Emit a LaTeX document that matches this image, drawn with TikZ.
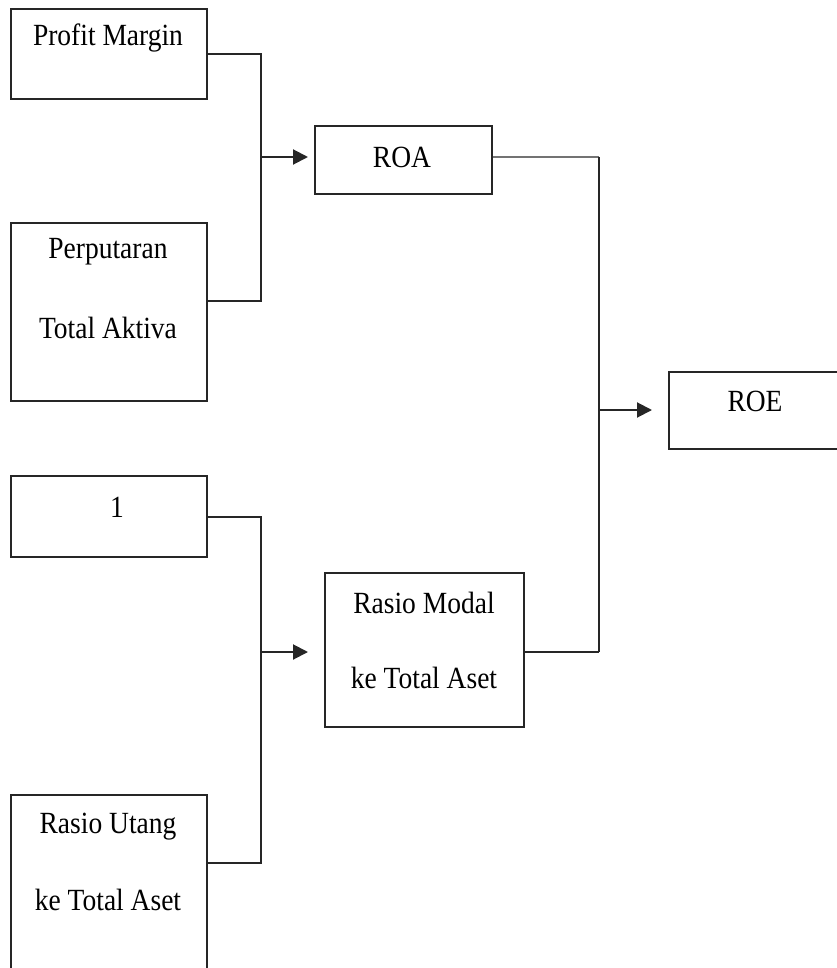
\documentclass[tikz,border=0pt]{standalone}
\usepackage{fontspec}
\setmainfont{Liberation Serif}
\usetikzlibrary{arrows.meta}
\newcommand{\tx}[1]{\scalebox{1}[1.12]{#1}}
\begin{document}
\begin{tikzpicture}[x=1pt,y=-1pt,
  box/.style={draw=black!85,line width=2pt,rectangle,inner sep=0pt},
  txt/.style={inner sep=0pt,font=\fontsize{27.5}{30}\selectfont,text=black},
  conn/.style={draw=black!85,line width=2pt},
  arr/.style={conn,-{Triangle[length=15pt,width=15pt]}}]
\useasboundingbox (0,0) rectangle (836,968);
% boxes
\node[box,minimum width=196pt,minimum height=90pt] (pm) at (109,54) {};
\node[box,minimum width=196pt,minimum height=178pt] (pta) at (109,312) {};
\node[box,minimum width=177pt,minimum height=68pt] (roa) at (403.5,160) {};
\node[box,minimum width=190pt,minimum height=77pt] (roe) at (764,410.5) {};
\node[box,minimum width=196pt,minimum height=81pt] (one) at (109,516.5) {};
\node[box,minimum width=199pt,minimum height=154pt] (modal) at (424.5,650) {};
\node[box,minimum width=196pt,minimum height=210pt] (utang) at (109,900) {};
% texts
\node[txt] (tpm) at (108,38) {\tx{Profit Margin}};
\node[txt] (tpta1) at (108,252) {\tx{Perputaran}};
\node[txt] (tpta2) at (108,328) {\tx{Total Aktiva}};
\node[txt] (troa) at (402,157) {\tx{ROA}};
\node[txt] (troe) at (755,401) {\tx{ROE}};
\node[txt] (tone) at (117,507) {\tx{1}};
\node[txt] (tmod1) at (424,603) {\tx{Rasio Modal}};
\node[txt] (tmod2) at (424,678) {\tx{ke Total Aset}};
\node[txt] (tut1) at (108,827) {\tx{Rasio Utang}};
\node[txt] (tut2) at (108,900) {\tx{ke Total Aset}};
% junctions
\coordinate (ja) at (261,157);
\coordinate (jc) at (261,652);
\coordinate (rtop) at (599,157);
\coordinate (rbot) at (599,652);
\coordinate (jb) at (599,410);
% connectors
\draw[conn] (pm.east) -| (ja);
\draw[conn] ([yshift=11pt]pta.east) -| (ja);
\draw[arr,shorten >=6pt] (ja) -- (roa.west |- ja);
\draw[conn] (one.east) -| (jc);
\draw[conn] ([yshift=37pt]utang.east) -| (jc);
\draw[arr,shorten >=16pt] (jc) -- (modal.west |- jc);
\draw[draw=black!55,line width=2.6pt] (roa.east |- rtop) -- (rtop);
\draw[conn] (rtop) -- (rbot);
\draw[conn] (modal.east |- rbot) -- (rbot);
\draw[arr,shorten >=16pt] (jb) -- (roe.west |- jb);
\end{tikzpicture}
\end{document}
